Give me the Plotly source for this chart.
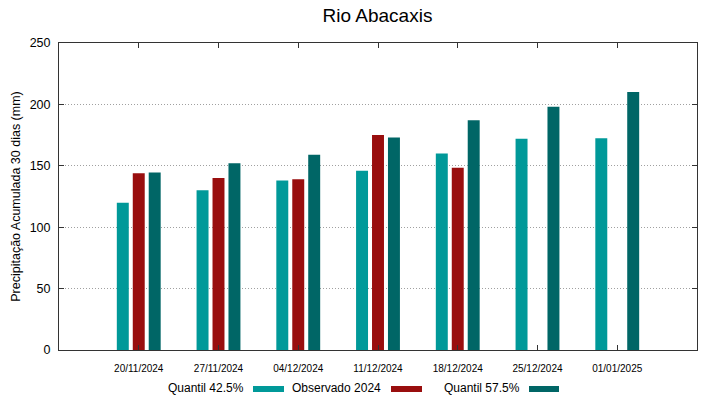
import plotly.graph_objects as go

dates = ["20/11/2024", "27/11/2024", "04/12/2024", "11/12/2024",
         "18/12/2024", "25/12/2024", "01/01/2025"]
q425 = [120.0, 130.0, 138.0, 146.0, 160.0, 172.0, 172.5]
obs2024 = [144.0, 140.0, 139.0, 175.0, 148.5, None, None]
q575 = [144.5, 152.0, 159.0, 173.0, 187.0, 198.0, 210.0]
series_names = ["Quantil 42.5%", "Observado 2024", "Quantil 57.5%"]
colors = ["#009999", "#990e0e", "#006666"]
y_ticks = [0, 50, 100, 150, 200, 250]

FONT = "Liberation Sans, Arial, sans-serif"
x_idx = list(range(len(dates)))

fig = go.Figure()
for name, vals, col in zip(series_names, [q425, obs2024, q575], colors):
    fig.add_trace(go.Bar(x=x_idx, y=vals, name=name, marker_color=col,
                         marker_line_width=0, showlegend=False))

# custom legend: text followed by swatch (gnuplot style)
L, R, T, B = 59, 697, 43, 350
W, H = R - L, B - T
def px(x):
    return (x - L) / W
def py(y):
    return (B - y) / H

legend_items = [(246, 253, 284), (383, 391, 422), (522, 529, 559)]
for name, col, (txt_right, sw0, sw1) in zip(series_names, colors, legend_items):
    fig.add_annotation(text=name, xref="paper", yref="paper", x=px(txt_right),
                       y=py(388), xanchor="right", yanchor="middle",
                       showarrow=False, font=dict(family=FONT, size=12, color="#000"))
    fig.add_shape(type="rect", xref="paper", yref="paper",
                  x0=px(sw0), x1=px(sw1), y0=py(392), y1=py(386),
                  fillcolor=col, line_width=0)

fig.update_layout(
    width=719, height=399,
    margin=dict(l=L, r=719 - R, t=T, b=399 - B, autoexpand=False),
    paper_bgcolor="white", plot_bgcolor="white",
    barmode="group", bargap=0.4, bargroupgap=0.25,
    font=dict(family=FONT, color="#000"),
    title=dict(text="Rio Abacaxis", x=px(377.5), xref="paper", xanchor="center",
               y=1 - 15 / 399, yanchor="middle",
               font=dict(family=FONT, size=19, color="#000")),
)
fig.update_xaxes(
    range=[-1, 7], tickmode="array", tickvals=x_idx, ticktext=dates,
    tickfont=dict(size=10), ticks="inside", ticklen=5, tickcolor="#333",
    ticklabelstandoff=9,
    showline=True, linecolor="#333", linewidth=1, mirror="ticks",
    showgrid=False, zeroline=False, automargin=False,
)
fig.update_yaxes(
    range=[0, 250], tickmode="array", tickvals=y_ticks,
    tickfont=dict(size=12.5), ticks="inside", ticklen=5, tickcolor="#333",
    ticklabelstandoff=5,
    showline=True, linecolor="#333", linewidth=1, mirror="ticks",
    showgrid=True, gridcolor="#a0a0a0", griddash="1px,2px", gridwidth=1,
    zeroline=False, automargin=False,
    title=dict(text="Precipitação Acumulada 30 dias (mm)", font=dict(size=12.5), standoff=6),
)

fig.write_html("out.html", config={"displayModeBar": False},
               post_script="document.body.style.margin='0';document.body.style.overflow='hidden';")
